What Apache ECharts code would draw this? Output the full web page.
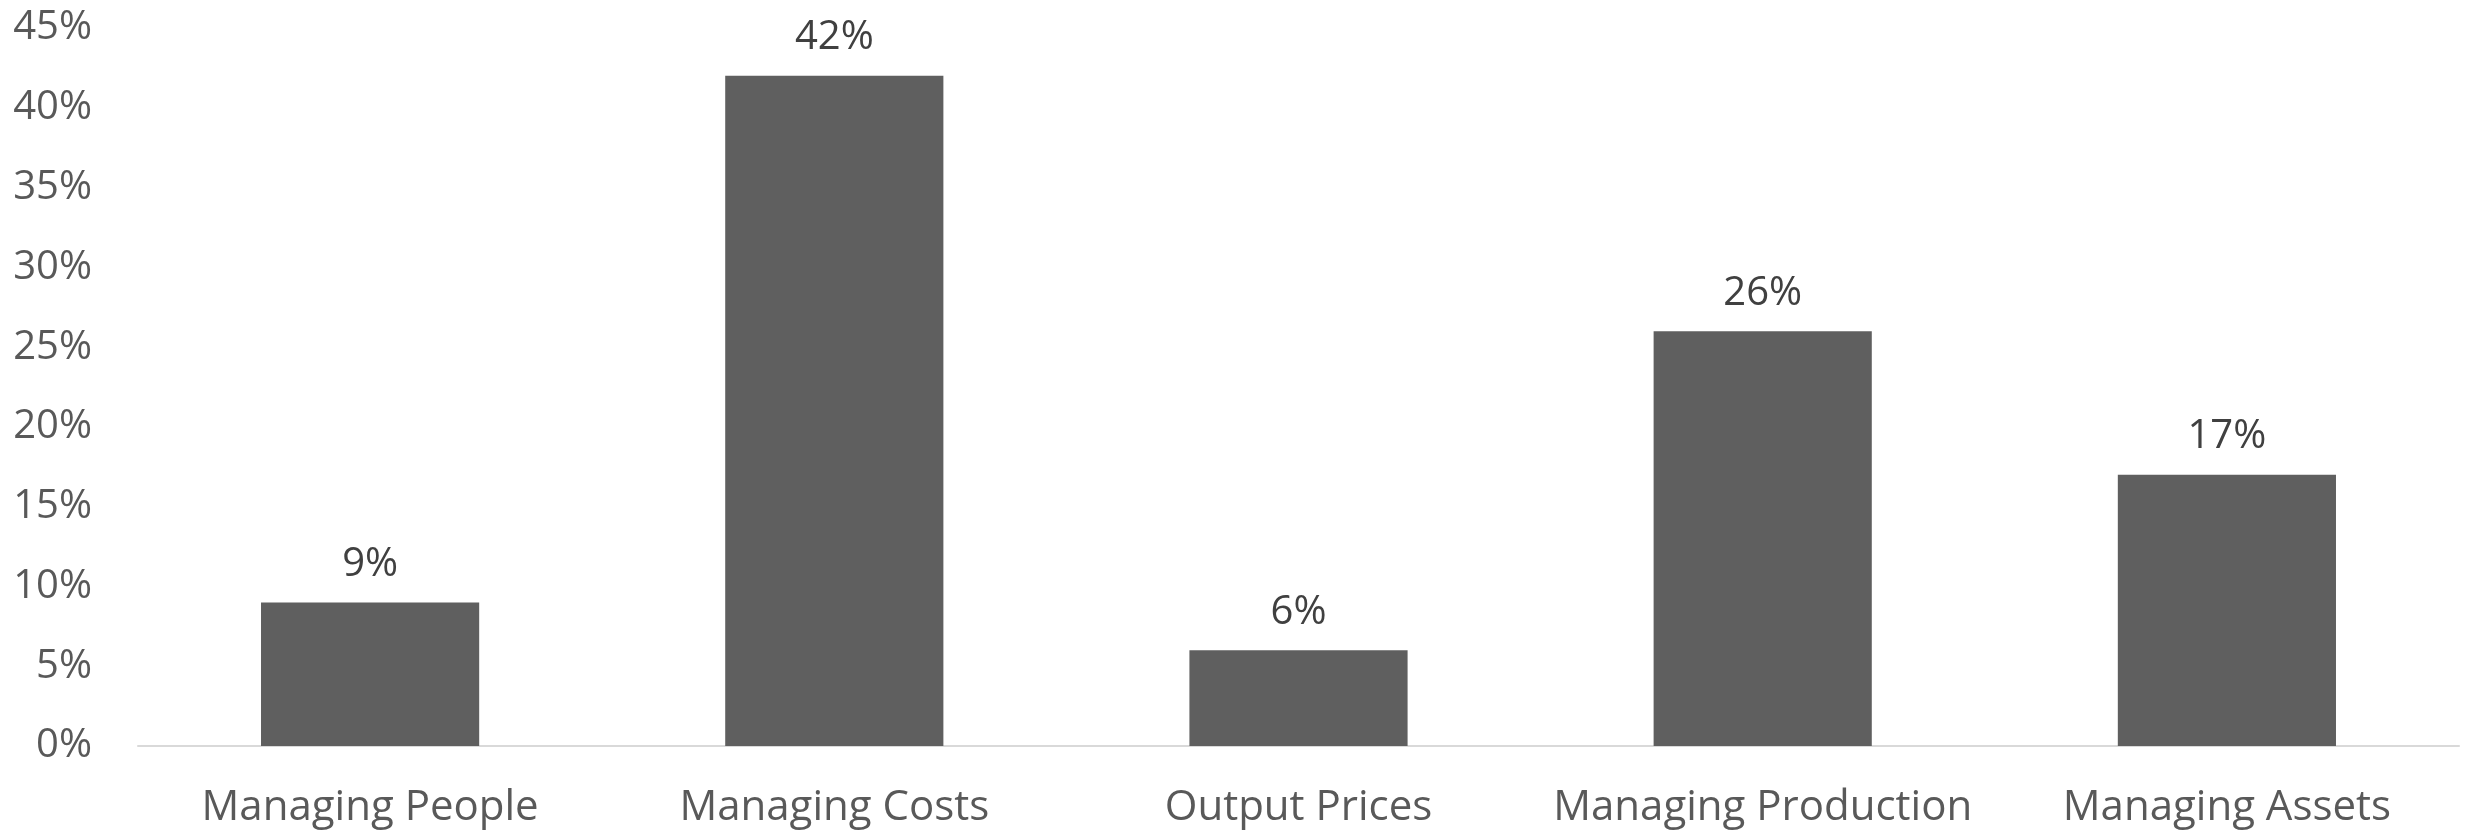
<!DOCTYPE html>
<html>
<head>
<meta charset="utf-8">
<script src="https://cdn.jsdelivr.net/npm/echarts@6/dist/echarts.min.js"></script>
<style>
html,body{margin:0;padding:0;background:#fff;}
#chart{width:2468px;height:834px;}
</style>
</head>
<body>
<div id="chart"></div>
<script>
const categories = ["Managing People", "Managing Costs", "Output Prices", "Managing Production", "Managing Assets"];
const values = [9, 42, 6, 26, 17];
const yMin = 0, yMax = 45, yInterval = 5;

const chart = echarts.init(document.getElementById('chart'));
chart.setOption({
  animation: false,
  backgroundColor: '#ffffff',
  grid: { left: 138, right: 9, top: 28, bottom: 88, containLabel: false },
  xAxis: {
    type: 'category',
    data: categories,
    axisLine: { show: true, lineStyle: { color: '#d9d9d9', width: 2 } },
    axisTick: { show: false },
    axisLabel: { color: '#595959', fontFamily: 'Open Sans', fontSize: 42, lineHeight: 44, margin: 40, interval: 0 }
  },
  yAxis: {
    type: 'value',
    min: yMin, max: yMax, interval: yInterval,
    axisLine: { show: false },
    axisTick: { show: false },
    splitLine: { show: false },
    axisLabel: { color: '#595959', fontFamily: 'Open Sans', fontSize: 40, margin: 46, formatter: v => v + '%' }
  },
  series: [{
    type: 'bar',
    data: values,
    barCategoryGap: '53%',
    itemStyle: { color: '#5f5f5f' },
    label: {
      show: true, position: 'top', distance: 18,
      color: '#404040', fontFamily: 'Open Sans', fontSize: 40,
      formatter: p => p.value + '%'
    }
  }]
});
</script>
</body>
</html>
